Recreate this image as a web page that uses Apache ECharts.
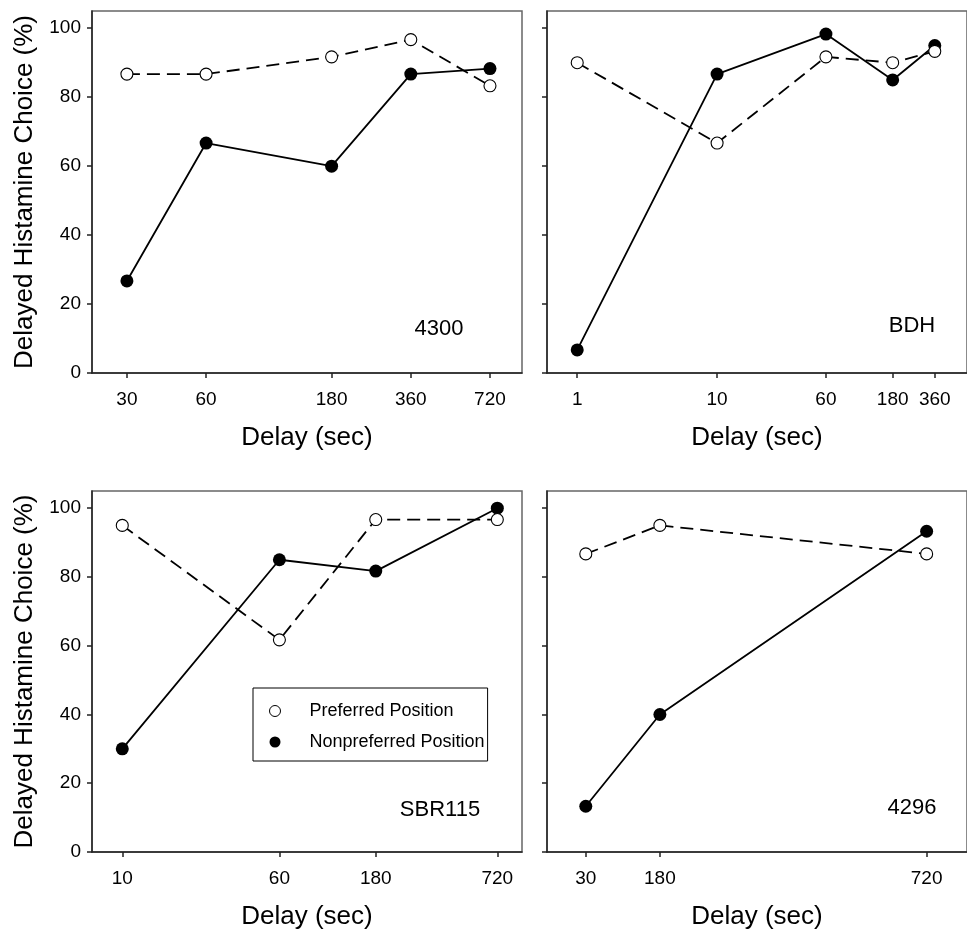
<!DOCTYPE html>
<html>
<head>
<meta charset="utf-8">
<title>Delayed Histamine Choice</title>
<script src="https://cdn.jsdelivr.net/npm/echarts@6/dist/echarts.min.js"></script>
<style>
	html, body { margin:0; padding:0; background:#fff; }
	#main { width:967px; height:931px; }
</style>
</head>
<body>
<div id="main"></div>
<script>
// values
var delays4300 = [30, 60, 180, 360, 720];
var pref4300 = [86.7, 86.7, 91.7, 96.7, 83.3];
var nonpref4300 = [26.7, 66.7, 60.0, 86.7, 88.3];

var delaysBDH = [1, 10, 60, 180, 360];
var prefBDH = [90.0, 66.7, 91.7, 90.0, 93.3];
var nonprefBDH = [6.7, 86.7, 98.3, 85.0, 95.0];

var delaysSBR115 = [10, 60, 180, 720];
var prefSBR115 = [95.0, 61.7, 96.7, 96.7];
var nonprefSBR115 = [30.0, 85.0, 81.7, 100.0];

var delays4296 = [30, 180, 720];
var pref4296 = [86.7, 95.0, 86.7];
var nonpref4296 = [13.3, 40.0, 93.3];

var yTicks = [0, 20, 40, 60, 80, 100];
var panelNames = ['4300', 'BDH', 'SBR115', '4296'];

var font = 'Liberation Sans, Arial, sans-serif';

function pairs(xs, ys){
	var out = [];
	for(var i=0;i<xs.length;i++){
		out.push([xs[i], ys[i]]);
	}
	return out;
}

function xAxisFor(grid, type, min, max, ticks){
	return {
		type: type, logBase: 10, gridIndex: grid, min: min, max: max,
		name: 'Delay (sec)', nameLocation: 'middle', nameGap: 52,
		nameTextStyle: { fontSize: 26, color: '#000', fontFamily: font },
		axisLine: { show: true, onZero: false, lineStyle: { color: '#222', width: 1.5 } },
		axisTick: { show: true, length: 5, customValues: ticks, lineStyle: { color: '#222', width: 1.5 } },
		axisLabel: { customValues: ticks, margin: 17, fontSize: 19, color: '#000', fontFamily: font },
		splitLine: { show: false },
		minorTick: { show: false }
	};
}

function yAxisFor(grid, withLabels){
	return {
		type: 'value', gridIndex: grid, min: 0, max: 105,
		name: withLabels ? 'Delayed Histamine Choice (%)' : '',
		nameLocation: 'middle', nameGap: 54,
		nameTextStyle: { fontSize: 26, color: '#000', fontFamily: font },
		axisLine: { show: true, onZero: false, lineStyle: { color: '#222', width: 1.5 } },
		axisTick: { show: true, length: 5, customValues: yTicks, lineStyle: { color: '#222', width: 1.5 } },
		axisLabel: { show: withLabels, customValues: yTicks, margin: 11, fontSize: 19, color: '#000', fontFamily: font },
		splitLine: { show: false }
	};
}

function seriesFor(grid, delays, pref, nonpref){
	return [{
		name: 'Nonpreferred Position', type: 'line', xAxisIndex: grid, yAxisIndex: grid,
		data: pairs(delays, nonpref), symbol: 'circle', symbolSize: 13, z: 2,
		itemStyle: { color: '#000' },
		lineStyle: { color: '#000', width: 1.8 },
		emphasis: { disabled: true }, silent: true
	}, {
		name: 'Preferred Position', type: 'line', xAxisIndex: grid, yAxisIndex: grid,
		data: pairs(delays, pref), symbol: 'circle', symbolSize: 12, z: 3,
		itemStyle: { color: '#fff', borderColor: '#000', borderWidth: 1.1 },
		lineStyle: { color: '#000', width: 1.8, type: [13, 7] },
		emphasis: { disabled: true }, silent: true
	}];
}

function panelLabel(text, x, y){
	return {
		type: 'text', x: x, y: y, z: 10,
		style: { text: text, fill: '#000', font: '22px ' + font, align: 'center', verticalAlign: 'middle' }
	};
}

var grids = [
	{ left: 92, top: 11, width: 430, height: 362 },
	{ left: 547, top: 11, width: 430, height: 362 },
	{ left: 92, top: 491, width: 430, height: 363 },
	{ left: 547, top: 491, width: 430, height: 363 }
];
for(var g=0;g<grids.length;g++){
	grids[g].show = true;
	grids[g].borderColor = '#666';
	grids[g].borderWidth = 1.5;
	grids[g].containLabel = false;
}

var series = []
	.concat(seriesFor(0, delays4300, pref4300, nonpref4300))
	.concat(seriesFor(1, delaysBDH, prefBDH, nonprefBDH))
	.concat(seriesFor(2, delaysSBR115, prefSBR115, nonprefSBR115))
	.concat(seriesFor(3, delays4296, pref4296, nonpref4296));

var option = {
	animation: false,
	backgroundColor: '#fff',
	grid: grids,
	xAxis: [
		xAxisFor(0, 'log', 22.1, 953, delays4300),
		xAxisFor(1, 'log', 0.608, 612, delaysBDH),
		xAxisFor(2, 'log', 7.08, 954, delaysSBR115),
		xAxisFor(3, 'value', -48.5, 801.7, delays4296)
	],
	yAxis: [
		yAxisFor(0, true),
		yAxisFor(1, false),
		yAxisFor(2, true),
		yAxisFor(3, false)
	],
	legend: {
		left: 253, top: 688, orient: 'vertical',
		data: [
			{ name: 'Preferred Position', itemStyle: { color: '#fff', borderColor: '#000', borderWidth: 1 } },
			{ name: 'Nonpreferred Position', itemStyle: { color: '#000' } }
		],
		icon: 'circle', itemWidth: 11, itemHeight: 11, itemGap: 11,
		padding: [13, 3, 9, 16],
		borderColor: '#000', borderWidth: 1, backgroundColor: '#fff',
		textStyle: { fontSize: 18, color: '#000', fontFamily: font, lineHeight: 20, padding: [0, 0, 0, 24] },
		selectedMode: false
	},
	graphic: [
		panelLabel(panelNames[0], 439, 329),
		panelLabel(panelNames[1], 912, 326),
		panelLabel(panelNames[2], 440, 810),
		panelLabel(panelNames[3], 912, 808)
	],
	series: series
};

var chart = echarts.init(document.getElementById('main'));
chart.setOption(option);
</script>
</body>
</html>
